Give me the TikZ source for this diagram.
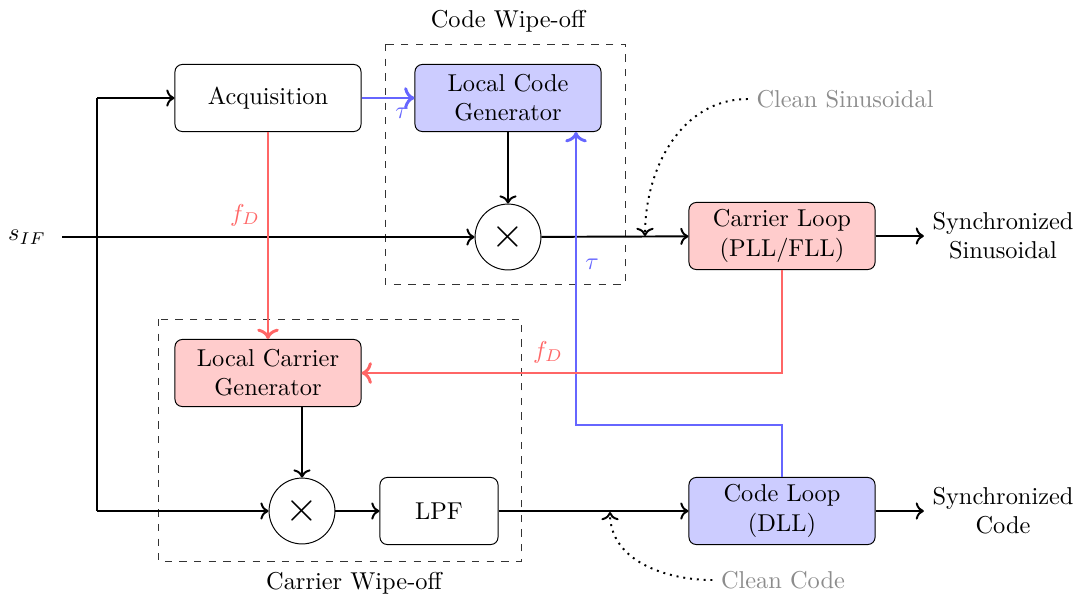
\documentclass[tikz,border=0pt]{standalone}
\usetikzlibrary{arrows.meta}
\begin{document}
\begin{tikzpicture}[x=0.41pt,y=-0.41pt,
  blk/.style={draw,rounded corners=3pt,minimum width=76.3pt,minimum height=27.5pt,align=center,inner sep=1pt},
  mult/.style={draw,circle,minimum size=27pt,inner sep=0pt},
  wire/.style={thick,->},
  bwire/.style={very thick,->,draw=blue!60},
  rwire/.style={very thick,->,draw=red!60},
  wipe/.style={draw,dashed,black!80},
  note/.style={text=gray!90},
  dot/.style={dotted,thick,->}]
\useasboundingbox (0,0) rectangle (1079,598);
% wipe-off boxes
\draw[wipe] (385,44) rectangle (625,284);
\node (cwl) at (508,21) {Code Wipe-off};
\draw[wipe] (158,319) rectangle (521,561);
\node (rwl) at (354,583) {Carrier Wipe-off};
% nodes
\node (sif) at (27,237) {$s_{IF}$};
\coordinate (sife) at (62,237);
\coordinate (br) at (97,237);
\node[blk] (acq) at (268,98) {Acquisition};
\node[blk,fill=blue!20] (lcg) at (508,98) {Local Code\\Generator};
\node[mult] (m1) at (508,237) {\LARGE$\times$};
\node[blk,fill=red!20] (cl) at (782,236) {Carrier Loop\\(PLL/FLL)};
\node[align=center] (ss) at (1003,236) {Synchronized\\Sinusoidal};
\node[blk,fill=red!20] (lcar) at (268,373) {Local Carrier\\Generator};
\node[mult] (m2) at (302,511) {\LARGE$\times$};
\node[blk,minimum width=48.4pt] (lpf) at (439,511) {LPF};
\node[blk,fill=blue!20] (dll) at (782,511) {Code Loop\\(DLL)};
\node[align=center] (sc) at (1003,511) {Synchronized\\Code};
\node[note] (csin) at (845,99) {Clean Sinusoidal};
\node[note] (ccode) at (783,580) {Clean Code};
\coordinate (p1) at (645,236);
\coordinate (p2) at (610,512);
% black wires
\draw[thick] (sife) -- (br);
\draw[wire] (br) -- (m1);
\draw[wire] (97,98) |- (acq.west);
\draw[thick] (97,98) -- (97,511);
\draw[wire] (97,511) -- (m2.west);
\draw[wire] (lcg) -- (m1);
\draw[wire] (m1) -- (cl);
\draw[wire] (cl) -- (ss);
\draw[wire] (lcar.south -| m2) -- (m2.north);
\draw[wire] (m2) -- (lpf);
\draw[wire] (lpf) -- (dll);
\draw[wire] (dll) -- (sc);
% dotted notes
\draw[dot] (csin.west) to[out=180,in=90] (p1);
\draw[dot] (ccode.west) to[out=180,in=-90] (p2);
% colored wires
\draw[bwire] (dll.north) -- (782,425) -- (576,425) -- (576,132);
\node[text=blue!60] (t2) at (592,264) {$\tau$};
\draw[bwire] (acq) -- (lcg);
\node[text=blue!60] (t1) at (402,113) {$\tau$};
\draw[rwire] (acq) -- (lcar);
\node[text=red!60] (f1) at (245,215) {$f_D$};
\draw[rwire] (cl.south) |- (lcar.east);
\node[text=red!60] (f2) at (548,352) {$f_D$};
\end{tikzpicture}
\end{document}
